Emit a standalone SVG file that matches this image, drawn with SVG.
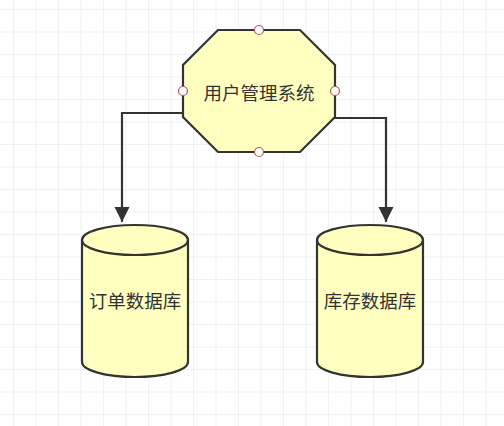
<svg xmlns="http://www.w3.org/2000/svg" width="504" height="426" viewBox="0 0 504 426">
<defs>
<pattern id="grid" x="13" y="9" width="22.5" height="22.5" patternUnits="userSpaceOnUse">
<path d="M0 0 H22.5 M0 0 V22.5" fill="none" stroke="#e4e4e4" stroke-width="1"/>
</pattern>
<marker id="arr" viewBox="0 0 10 10" refX="10" refY="5" markerWidth="7" markerHeight="7" markerUnits="strokeWidth" orient="auto">
<path d="M0 0 L10 5 L0 10 Z" fill="#333"/>
</marker>
<style>
.shape{fill:#ffffc0;stroke:#333;stroke-width:2.2}
.conn{fill:none;stroke:#333;stroke-width:2.2}
.pt{fill:#fff;stroke:#b85450;stroke-width:1.2}
.lbl{font-family:"Noto Sans CJK SC","Liberation Sans",sans-serif;font-size:18.5px;fill:#333;text-anchor:middle;dominant-baseline:central}
</style>
</defs>
<rect width="504" height="426" fill="#fff"/>
<rect width="504" height="426" fill="url(#grid)"/>
<g id="connectors">
<path class="conn" d="M183 113 H122 V222" marker-end="url(#arr)"/>
<path class="conn" d="M335 118 H386 V222" marker-end="url(#arr)"/>
</g>
<g id="user-system">
<polygon class="shape" points="218,30 300,30 335,65 335,117 300,152 218,152 183,117 183,65"/>
<text class="lbl" x="259" y="92">用户管理系统</text>
<circle class="pt" cx="259" cy="30" r="4.5"/>
<circle class="pt" cx="259" cy="152" r="4.5"/>
<circle class="pt" cx="183" cy="91" r="4.5"/>
<circle class="pt" cx="335" cy="91" r="4.5"/>
</g>
<g id="order-db">
<path class="shape" d="M82 240 A53 15 0 0 1 188 240 V362 A53 15 0 0 1 82 362 Z"/>
<path class="conn" d="M82 240 A53 15 0 0 0 188 240"/>
<text class="lbl" x="135" y="300">订单数据库</text>
</g>
<g id="stock-db">
<path class="shape" d="M317 240 A53 15 0 0 1 423 240 V362 A53 15 0 0 1 317 362 Z"/>
<path class="conn" d="M317 240 A53 15 0 0 0 423 240"/>
<text class="lbl" x="370" y="300">库存数据库</text>
</g>
</svg>
